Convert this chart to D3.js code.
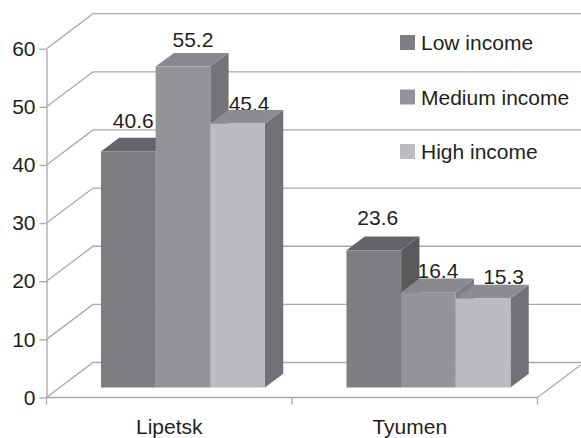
<!DOCTYPE html>
<html>
<head>
<meta charset="utf-8">
<script src="https://cdn.jsdelivr.net/npm/d3@7"></script>
<style>
    body { margin: 0; background: #fff; }
    text { font-family: "Liberation Sans", Arial, sans-serif; fill: #231f20; }
</style>
</head>
<body>
<div id="chart"></div>
<script>
const categories = ["Lipetsk", "Tyumen"];
const seriesNames = ["Low income", "Medium income", "High income"];
const lowValues = [40.6, 23.6];
const mediumValues = [55.2, 16.4];
const highValues = [45.4, 15.3];
const yTicks = [0, 10, 20, 30, 40, 50, 60];

const seriesValues = [lowValues, mediumValues, highValues];
const frontColors = ["#7d7e81", "#939497", "#bbbcc0"];
const topColors = ["#636467", "#88898c", "#8c8d90"];
const sideColors = ["#58595b", "#737477", "#717275"];
const gridColor = "#a7a9ac";

const width = 581, height = 438;
const left = 46.5, right = 537.5, y0 = 397.5, y60 = 48.7;
const fontSize = "21px";

// depth of the floor/walls and of the boxes
const wallDx = 46.5, wallDy = -35;
const boxDx = 18.3, boxDy = -13.7;
// boxes stand a little way back on the floor
const boxShift = 13.7, boxLift = 10;

const svg = d3.select("#chart")
    .append("svg")
    .attr("width", width)
    .attr("height", height);

const x0 = d3.scaleBand().domain(categories).range([left, right]).paddingInner(0.332).paddingOuter(0.166);
const x1 = d3.scaleBand().domain(d3.range(seriesNames.length)).range([0, x0.bandwidth()]);
const y = d3.scaleLinear().domain([0, 60]).range([y0, y60]);

// walls
const grid = svg.append("g")
    .attr("fill", "none")
    .attr("stroke", gridColor)
    .attr("stroke-width", 1.3);

yTicks.forEach(t => {
    grid.append("path")
        .attr("d", d3.line()([
            [left, y(t)],
            [left + wallDx, y(t) + wallDy],
            [width, y(t) + wallDy]
        ]));
});

grid.append("path")
    .attr("d", d3.line()([[right, y0], [width, y0 + wallDy * (width - right) / wallDx]]));

// bottom axis is only ticks between the groups
const xEdges = [left, (left + right) / 2, right];
xEdges.forEach(e => {
    grid.append("line")
        .attr("x1", e).attr("x2", e)
        .attr("y1", y0).attr("y2", y0 + 7);
});
grid.append("line")
    .attr("x1", left).attr("x2", right)
    .attr("y1", y0).attr("y2", y0);

const yAxis = svg.append("g")
    .attr("transform", `translate(${left},0)`)
    .call(d3.axisLeft(y).tickValues(yTicks).tickSize(7).tickSizeOuter(0).tickPadding(4));
yAxis.select(".domain").attr("stroke", gridColor).attr("stroke-width", 1.3);
yAxis.selectAll(".tick line").attr("stroke", gridColor).attr("stroke-width", 1.3);
yAxis.selectAll(".tick text")
    .style("font-size", fontSize)
    .attr("font-family", null);

// value labels go under the boxes: 45.4 and 16.4 are clipped by them in the source
const labelDx = [[5, 4], [10, 9.5], [11.5, 20.5]];
const labelDy = [[-23, -25], [-20, -14], [-13, -15]];
categories.forEach((cat, c) => {
    seriesValues.forEach((values, s) => {
        svg.append("text")
            .attr("x", x0(cat) + x1(s) + boxShift + x1.bandwidth() / 2 + labelDx[s][c])
            .attr("y", y(values[c]) - boxLift + labelDy[s][c])
            .attr("text-anchor", "middle")
            .style("font-size", fontSize)
            .text(values[c].toFixed(1));
    });
});

// boxes, left to right so that each one covers the side of the last
const baseY = y0 - boxLift;
categories.forEach((cat, c) => {
    seriesValues.forEach((values, s) => {
        const xa = x0(cat) + x1(s) + boxShift;
        const xb = xa + x1.bandwidth();
        const yTop = y(values[c]) - boxLift;
        const g = svg.append("g");

        // Tyumen medium box has a lighter side than the others of its series
        const side = (c === 1 && s === 1) ? "#7d7e81" : sideColors[s];

        g.append("path")
            .attr("fill", side)
            .attr("d", d3.line()([
                [xb, yTop], [xb + boxDx, yTop + boxDy],
                [xb + boxDx, baseY + boxDy], [xb, baseY]
            ]) + "Z");
        g.append("path")
            .attr("fill", topColors[s])
            .attr("d", d3.line()([
                [xa, yTop], [xa + boxDx, yTop + boxDy],
                [xb + boxDx, yTop + boxDy], [xb, yTop]
            ]) + "Z");
        g.append("rect")
            .attr("x", xa)
            .attr("y", yTop)
            .attr("width", x1.bandwidth())
            .attr("height", baseY - yTop)
            .attr("fill", frontColors[s]);
    });
});

// category labels
const categoryDx = [0, -5];
categories.forEach((cat, c) => {
    svg.append("text")
        .attr("x", x0(cat) + x0.bandwidth() / 2 + categoryDx[c])
        .attr("y", 434)
        .attr("text-anchor", "middle")
        .style("font-size", fontSize)
        .text(cat);
});

// legend
const legendY = d3.scalePoint().domain(seriesNames).range([35, 144]);
seriesNames.forEach((name, s) => {
    svg.append("rect")
        .attr("x", 400)
        .attr("y", legendY(name))
        .attr("width", 15)
        .attr("height", 15)
        .attr("fill", frontColors[s]);
    svg.append("text")
        .attr("x", 421)
        .attr("y", legendY(name) + 15)
        .style("font-size", fontSize)
        .text(name);
});
</script>
</body>
</html>
